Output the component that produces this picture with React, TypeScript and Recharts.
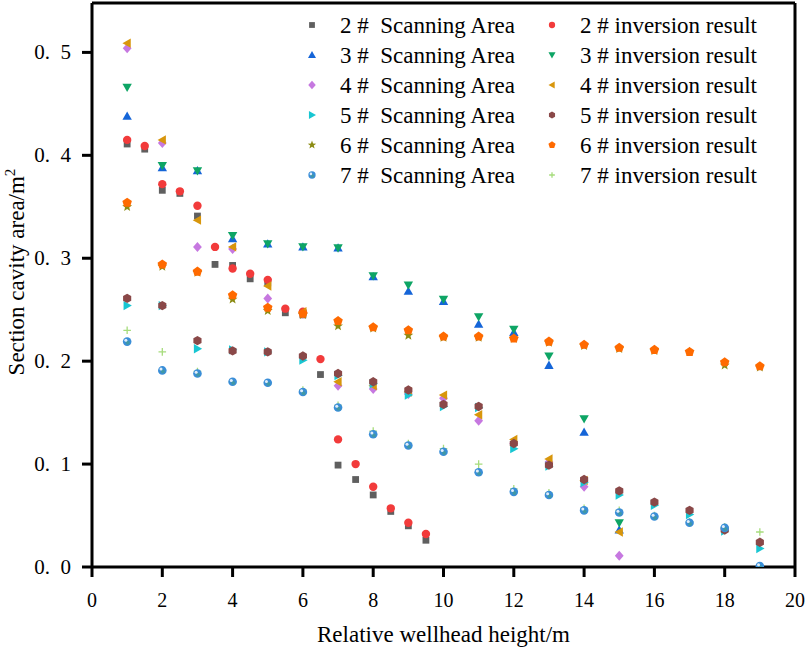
import { ScatterChart, Scatter, XAxis, YAxis, ReferenceLine, Legend } from "recharts";

document.body.style.margin = "0";

const FONT = "Liberation Serif, Tinos, serif";

// heights (m)
const halfSteps = [1, 1.5, 2, 2.5, 3, 3.5, 4, 4.5, 5, 5.5, 6, 6.5, 7, 7.5, 8, 8.5, 9, 9.5];
const to15 = [1, 2, 3, 4, 5, 6, 7, 8, 9, 10, 11, 12, 13, 14, 15];
const to19 = [1, 2, 3, 4, 5, 6, 7, 8, 9, 10, 11, 12, 13, 14, 15, 16, 17, 18, 19];

const xTicks = [0, 2, 4, 6, 8, 10, 12, 14, 16, 18, 20];
const yTicks = [0, 0.1, 0.2, 0.3, 0.4, 0.5];

// section cavity area (m^2)
const scan2 = [0.411, 0.406, 0.366, 0.363, 0.341, 0.294, 0.293, 0.28, 0.276, 0.247, 0.245, 0.187, 0.099, 0.085, 0.07, 0.054, 0.04, 0.026];
const inv2 = [0.415, 0.409, 0.372, 0.365, 0.351, 0.311, 0.29, 0.285, 0.279, 0.251, 0.248, 0.202, 0.124, 0.1, 0.078, 0.057, 0.043, 0.032];

const scan3 = [0.438, 0.388, 0.385, 0.319, 0.314, 0.311, 0.31, 0.282, 0.268, 0.258, 0.236, 0.228, 0.196, 0.131, 0.036];
const inv3 = [0.466, 0.39, 0.385, 0.322, 0.314, 0.311, 0.31, 0.283, 0.274, 0.26, 0.243, 0.231, 0.205, 0.144, 0.043];

const scan4 = [0.504, 0.412, 0.311, 0.309, 0.261, 0.246, 0.176, 0.173, 0.168, 0.164, 0.142, 0.12, 0.102, 0.078, 0.011];
const inv4 = [0.509, 0.415, 0.337, 0.311, 0.273, 0.248, 0.18, 0.176, 0.17, 0.167, 0.148, 0.124, 0.105, 0.084, 0.034];

const scan5 = [0.254, 0.254, 0.212, 0.211, 0.209, 0.201, 0.186, 0.178, 0.167, 0.156, 0.155, 0.115, 0.098, 0.082, 0.07, 0.06, 0.051, 0.035, 0.018];
const inv5 = [0.261, 0.254, 0.22, 0.21, 0.209, 0.205, 0.188, 0.18, 0.172, 0.158, 0.156, 0.12, 0.099, 0.085, 0.074, 0.063, 0.055, 0.036, 0.024];

const scan6 = [0.35, 0.292, 0.286, 0.26, 0.249, 0.245, 0.234, 0.232, 0.225, 0.223, 0.223, 0.222, 0.218, 0.215, 0.212, 0.21, 0.209, 0.196, 0.194];
const inv6 = [0.354, 0.294, 0.287, 0.264, 0.252, 0.246, 0.239, 0.233, 0.23, 0.224, 0.224, 0.222, 0.219, 0.216, 0.213, 0.211, 0.209, 0.199, 0.195];

const scan7 = [0.219, 0.191, 0.188, 0.18, 0.179, 0.17, 0.155, 0.129, 0.118, 0.112, 0.092, 0.073, 0.07, 0.055, 0.053, 0.049, 0.043, 0.038, 0.001];
const inv7 = [0.23, 0.209, 0.19, 0.18, 0.179, 0.172, 0.157, 0.132, 0.12, 0.115, 0.1, 0.076, 0.072, 0.057, 0.055, 0.05, 0.044, 0.039, 0.034];

const pts = (xs: number[], ys: number[]) => xs.map((x, i) => ({ x, y: ys[i] }));

type Kind = "square" | "circle" | "up" | "down" | "left" | "right" | "diamond" | "hexagon" | "pentagon" | "star" | "plus" | "ball";

const series: { name: string; data: { x: number; y: number }[]; kind: Kind; color: string }[] = [
  { name: "2 #  Scanning Area", data: pts(halfSteps, scan2), kind: "square", color: "#5f5f5f" },
  { name: "2 # inversion result", data: pts(halfSteps, inv2), kind: "circle", color: "#f23b3b" },
  { name: "3 #  Scanning Area", data: pts(to15, scan3), kind: "up", color: "#1565d8" },
  { name: "3 # inversion result", data: pts(to15, inv3), kind: "down", color: "#0ea565" },
  { name: "4 #  Scanning Area", data: pts(to15, scan4), kind: "diamond", color: "#c678e0" },
  { name: "4 # inversion result", data: pts(to15, inv4), kind: "left", color: "#d8960c" },
  { name: "5 #  Scanning Area", data: pts(to19, scan5), kind: "right", color: "#18c6d2" },
  { name: "5 # inversion result", data: pts(to19, inv5), kind: "hexagon", color: "#8a4848" },
  { name: "6 #  Scanning Area", data: pts(to19, scan6), kind: "star", color: "#8c8c14" },
  { name: "6 # inversion result", data: pts(to19, inv6), kind: "pentagon", color: "#ff6a00" },
  { name: "7 # inversion result", data: pts(to19, inv7), kind: "plus", color: "#a6dc7c" },
  { name: "7 #  Scanning Area", data: pts(to19, scan7), kind: "ball", color: "#3a8ed8" },
];

const poly = (cx: number, cy: number, n: number, r: number, start: number) =>
  Array.from({ length: n }, (_, k) => {
    const a = ((start + (360 / n) * k) * Math.PI) / 180;
    return `${cx + r * Math.cos(a)},${cy + r * Math.sin(a)}`;
  }).join(" ");

function Marker({ kind, color, cx, cy, s = 1 }: { kind: Kind; color: string; cx: number; cy: number; s?: number }) {
  switch (kind) {
    case "square":
      return <rect x={cx - 3.4 * s} y={cy - 3.4 * s} width={6.8 * s} height={6.8 * s} fill={color} />;
    case "circle":
      return <circle cx={cx} cy={cy} r={4.2 * s} fill={color} />;
    case "up":
      return <polygon points={`${cx},${cy - 4.7 * s} ${cx + 4.7 * s},${cy + 3.6 * s} ${cx - 4.7 * s},${cy + 3.6 * s}`} fill={color} />;
    case "down":
      return <polygon points={`${cx},${cy + 4.7 * s} ${cx + 4.7 * s},${cy - 3.6 * s} ${cx - 4.7 * s},${cy - 3.6 * s}`} fill={color} />;
    case "left":
      return <polygon points={`${cx - 4.7 * s},${cy} ${cx + 3.6 * s},${cy - 4.7 * s} ${cx + 3.6 * s},${cy + 4.7 * s}`} fill={color} />;
    case "right":
      return <polygon points={`${cx + 4.7 * s},${cy} ${cx - 3.6 * s},${cy - 4.7 * s} ${cx - 3.6 * s},${cy + 4.7 * s}`} fill={color} />;
    case "diamond":
      return <polygon points={`${cx},${cy - 5 * s} ${cx + 4.4 * s},${cy} ${cx},${cy + 5 * s} ${cx - 4.4 * s},${cy}`} fill={color} />;
    case "hexagon":
      return <polygon points={poly(cx, cy, 6, 4.7 * s, -90)} fill={color} />;
    case "pentagon":
      return <polygon points={poly(cx, cy, 5, 5 * s, -90)} fill={color} />;
    case "star": {
      const p = Array.from({ length: 10 }, (_, k) => {
        const r = (k % 2 === 0 ? 5.2 : 2.2) * s;
        const a = ((-90 + 36 * k) * Math.PI) / 180;
        return `${cx + r * Math.cos(a)},${cy + r * Math.sin(a)}`;
      }).join(" ");
      return <polygon points={p} fill={color} />;
    }
    case "plus":
      return (
        <path
          d={`M${cx - 3.8 * s},${cy}H${cx + 3.8 * s}M${cx},${cy - 3.8 * s}V${cy + 3.8 * s}`}
          stroke={color}
          strokeWidth={1.3}
        />
      );
    case "ball":
      return (
        <g>
          <circle cx={cx} cy={cy} r={4.3 * s} fill={color} />
          <circle cx={cx + 0.6 * s} cy={cy + 1.2 * s} r={2 * s} fill="#4aa36a" opacity={0.45} />
          <circle cx={cx - 1.3 * s} cy={cy - 1.3 * s} r={1.5 * s} fill="#ffffff" opacity={0.85} />
        </g>
      );
  }
  return null;
}

const txt = { fontFamily: FONT, fill: "#000" };

function LegendBox() {
  const rowY = [20, 50, 80, 110, 140, 170];
  const scans = series.filter((d) => d.name.includes("Scanning"));
  const invs = series.filter((d) => d.name.includes("inversion"));
  return (
    <svg width={510} height={190} style={{ display: "block" }}>
      {scans.map((d, i) => (
        <g key={d.name}>
          <Marker kind={d.kind} color={d.color} cx={22} cy={rowY[i]} s={0.85} />
          <text x={50} y={rowY[i] + 8} fontSize={23} style={{ ...txt, whiteSpace: "pre" }}>
            {d.name}
          </text>
        </g>
      ))}
      {invs.map((d, i) => (
        <g key={d.name}>
          <Marker kind={d.kind} color={d.color} cx={262} cy={rowY[i]} s={0.75} />
          <text x={290} y={rowY[i] + 8} fontSize={23} style={{ ...txt, whiteSpace: "pre" }}>
            {d.name}
          </text>
        </g>
      ))}
    </svg>
  );
}

function XTick(p: any) {
  return (
    <text x={p.x} y={p.y + 16} textAnchor="middle" fontSize={20} style={txt}>
      {String(p.payload.value)}
    </text>
  );
}

function YTick(p: any) {
  const label = Number(p.payload.value).toFixed(1).replace(".", ".  ");
  return (
    <text x={p.x} y={p.y + 7} textAnchor="end" fontSize={21} style={{ ...txt, whiteSpace: "pre" }}>
      {label}
    </text>
  );
}

function YTitle() {
  return (
    <text x={24} y={272} transform="rotate(-90 24 272)" textAnchor="middle" fontSize={23} style={txt}>
      Section cavity area/m
      <tspan dy={-9} fontSize={15}>2</tspan>
    </text>
  );
}

export default function App() {
  const axisStyle = { stroke: "#000", strokeWidth: 3 };
  return (
    <div style={{ width: 809, height: 652, position: "relative", background: "#fff", fontFamily: FONT }}>
      <ScatterChart width={809} height={652} margin={{ top: 3, right: 14, bottom: 0, left: 0 }}>
        <XAxis
          type="number"
          dataKey="x"
          domain={[0, 20]}
          ticks={xTicks}
          allowDataOverflow
          height={85}
          tickSize={10}
          tickMargin={14}
          axisLine={axisStyle}
          tickLine={axisStyle}
          tick={<XTick />}
          label={{ value: "Relative wellhead height/m", position: "insideBottom", offset: 10, fill: "#000", fontSize: 23, style: txt }}
        />
        <YAxis
          type="number"
          dataKey="y"
          domain={[0, 0.548]}
          ticks={yTicks}
          allowDataOverflow
          width={92}
          tickSize={10}
          tickMargin={11}
          axisLine={axisStyle}
          tickLine={axisStyle}
          tick={<YTick />}
          label={<YTitle />}
        />
        <ReferenceLine y={0.548} stroke="#000" strokeWidth={3} />
        <ReferenceLine x={20} stroke="#000" strokeWidth={3} />
        <Legend
          layout="horizontal"
          verticalAlign="middle"
          align="center"
          wrapperStyle={{ position: "absolute", left: 290, top: 5, width: 510, height: 190 }}
          content={() => <LegendBox />}
        />
        {series.map((d) => (
          <Scatter
            key={d.name}
            name={d.name}
            data={d.data}
            isAnimationActive={false}
            shape={(p: any) => <Marker kind={d.kind} color={d.color} cx={p.cx} cy={p.cy} />}
          />
        ))}
      </ScatterChart>
    </div>
  );
}
